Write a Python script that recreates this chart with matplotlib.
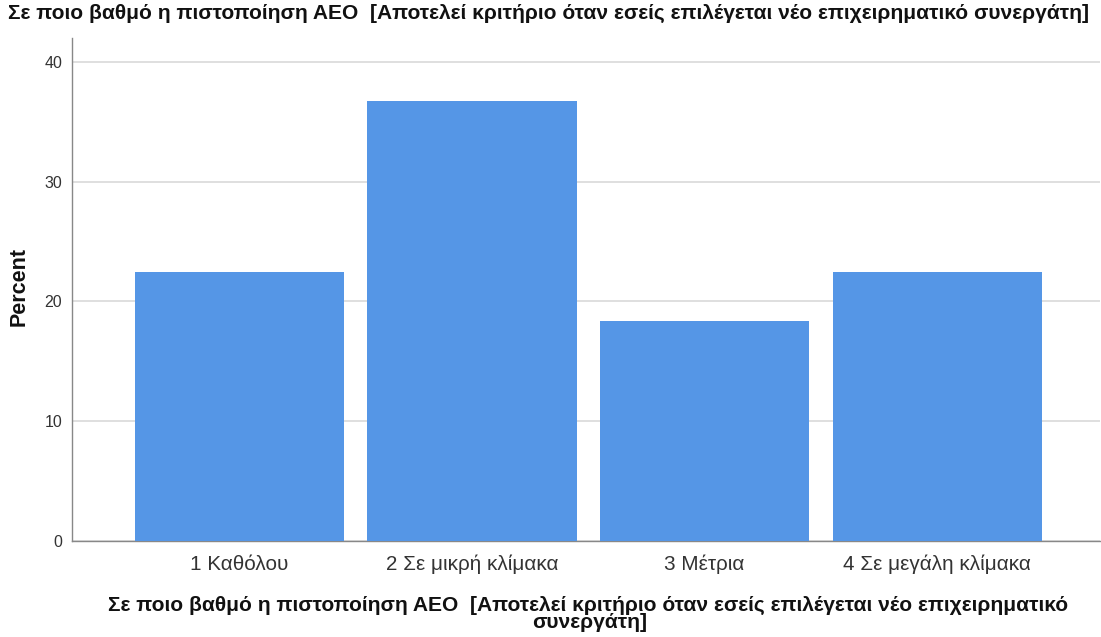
import matplotlib.pyplot as plt

plt.rcParams["font.family"] = ["Liberation Sans", "DejaVu Sans"]

# ── Data ────────────────────────────────────────────────────────────────────
categories = ["1 Καθόλου", "2 Σε μικρή κλίμακα", "3 Μέτρια", "4 Σε μεγάλη κλίμακα"]
percent = [22.45, 36.73, 18.37, 22.45]
y_ticks = [0, 10, 20, 30, 40]

TITLE = ("Σε ποιο βαθμό η πιστοποίηση AEO  [Αποτελεί κριτήριο όταν εσείς "
         "επιλέγεται νέο επιχειρηματικό συνεργάτη]")
XLABEL = ("Σε ποιο βαθμό η πιστοποίηση AEO  [Αποτελεί κριτήριο όταν εσείς "
          "επιλέγεται νέο επιχειρηματικό\nσυνεργάτη]")

BAR_COLOR = "#5596E6"
GRID_COLOR = "#D9D9D9"
AXIS_COLOR = "#888888"

fig = plt.figure(figsize=(11.01, 6.37), dpi=100, facecolor="white")
W, H = 1101, 637
ax = fig.add_axes([72 / W, 1 - 541 / H, (1100 - 72) / W, (541 - 38) / H])

ax.bar(range(len(categories)), percent, width=0.9, color=BAR_COLOR, zorder=3)

ax.set_xlim(-0.72, 3.70)
ax.set_ylim(0, 42)
ax.set_yticks(y_ticks)
ax.set_xticks(range(len(categories)))
ax.set_xticklabels(categories, fontsize=14.9, color="#333333")
ax.tick_params(axis="x", length=0, pad=10)
ax.tick_params(axis="y", labelsize=11.5, colors="#333333", length=0, pad=7)
ax.grid(axis="y", color=GRID_COLOR, linewidth=1.2, zorder=0)

for side in ["top", "right"]:
    ax.spines[side].set_visible(False)
for side in ["left", "bottom"]:
    ax.spines[side].set_color(AXIS_COLOR)
    ax.spines[side].set_linewidth(1.0)

# axis titles placed in figure pixels so nothing gets clipped
fig.text(19 / W, 1 - 287 / H, "Percent", fontsize=15.5, fontweight="bold",
         rotation=90, ha="center", va="center", color="#111111")
fig.text(8 / W, 1 - 13 / H, TITLE, fontsize=15.1, fontweight="bold",
         ha="left", va="center", color="#111111")
fig.text(108 / W, 1 - 605 / H, XLABEL.split("\n")[0], fontsize=15.1,
         fontweight="bold", ha="left", va="center", color="#111111")
fig.text(590 / W, 1 - 622 / H, XLABEL.split("\n")[1], fontsize=15.1,
         fontweight="bold", ha="center", va="center", color="#111111")

fig.savefig("out.png", dpi=100, facecolor="white")
